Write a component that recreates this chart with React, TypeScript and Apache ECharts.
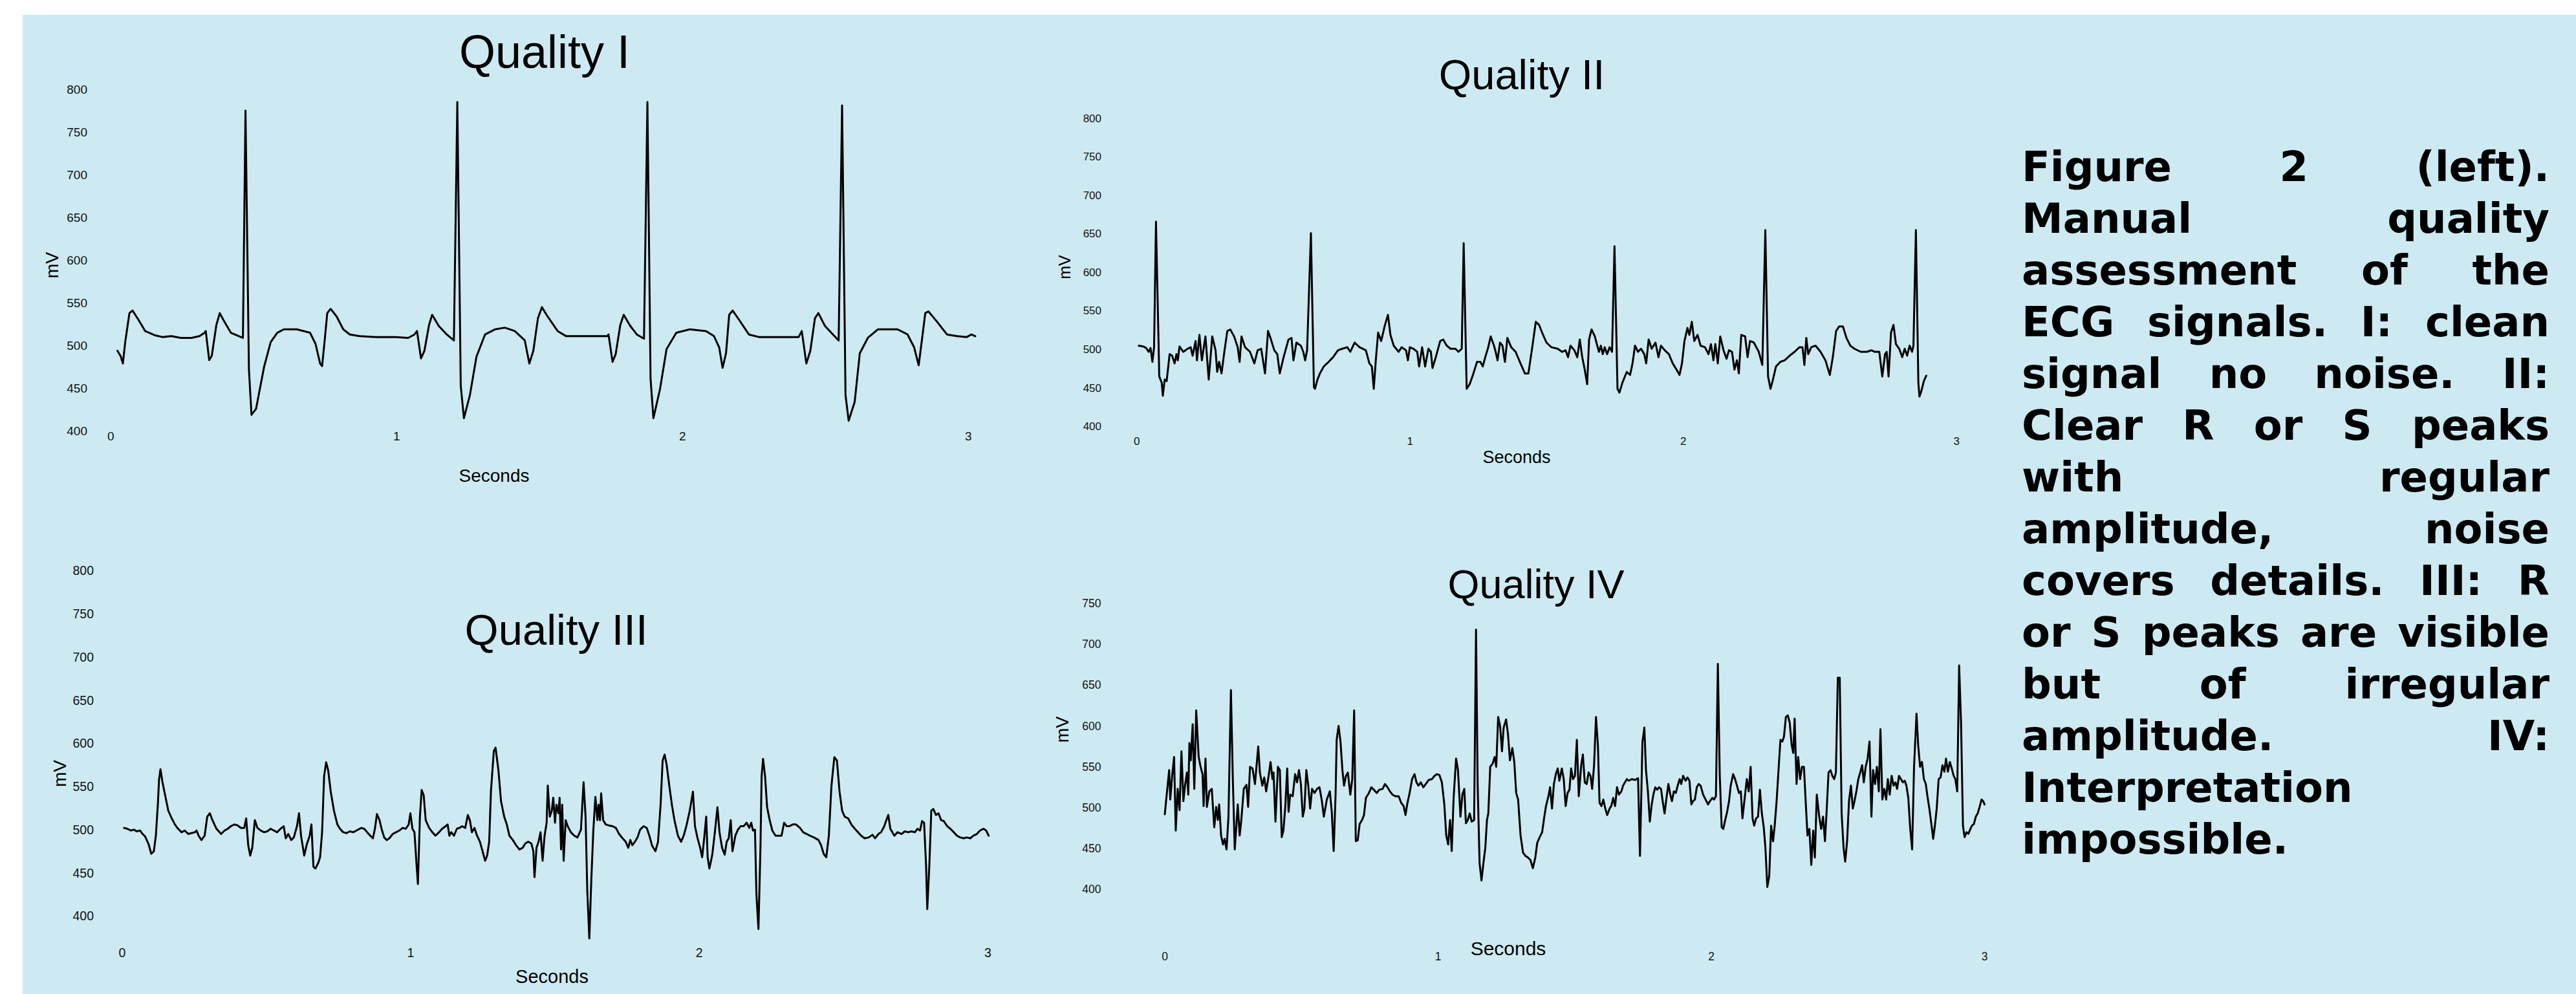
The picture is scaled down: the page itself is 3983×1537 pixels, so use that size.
import React, { useEffect, useRef } from "react";
import * as echarts from "echarts";

// ---------- DATA (seconds, mV) ----------
const q1Signal: number[][] = [
  [0.023,494],[0.035,487],[0.042,479],[0.051,506],[0.065,538],[0.076,541],[0.097,530],[0.120,517],[0.155,512],[0.180,510],[0.212,511],[0.245,509],[0.282,509],[0.310,511],[0.328,515],[0.332,517],[0.344,483],[0.353,488],[0.369,524],[0.381,538],[0.397,528],[0.420,515],[0.448,511],[0.462,509],[0.471,775],[0.483,472],[0.492,419],[0.508,426],[0.536,475],[0.559,504],[0.582,515],[0.605,519],[0.651,519],[0.697,515],[0.716,502],[0.732,479],[0.739,476],[0.748,506],[0.757,538],[0.769,543],[0.790,534],[0.813,519],[0.836,513],[0.870,511],[0.928,510],[0.997,510],[1.040,509],[1.062,513],[1.071,517],[1.085,485],[1.097,494],[1.113,524],[1.124,536],[1.147,523],[1.175,513],[1.200,506],[1.212,785],[1.224,453],[1.235,415],[1.256,442],[1.279,487],[1.309,513],[1.344,519],[1.378,521],[1.413,517],[1.448,506],[1.464,479],[1.478,494],[1.494,532],[1.508,545],[1.528,534],[1.563,517],[1.593,511],[1.667,511],[1.736,511],[1.741,513],[1.755,481],[1.766,490],[1.782,524],[1.794,536],[1.817,523],[1.840,513],[1.865,508],[1.877,785],[1.888,461],[1.898,415],[1.921,449],[1.944,496],[1.978,515],[2.025,519],[2.082,517],[2.110,511],[2.128,498],[2.140,474],[2.152,491],[2.163,536],[2.175,541],[2.198,530],[2.232,513],[2.267,510],[2.336,510],[2.406,510],[2.417,517],[2.433,479],[2.447,494],[2.463,532],[2.475,538],[2.498,523],[2.526,513],[2.546,506],[2.558,781],[2.570,442],[2.581,412],[2.602,434],[2.620,491],[2.648,509],[2.683,519],[2.752,519],[2.787,513],[2.810,498],[2.826,477],[2.837,506],[2.849,538],[2.860,540],[2.890,528],[2.925,513],[2.960,511],[2.994,510],[3.010,513],[3.024,511]
];

const q2Signal: number[][] = [
  [0.007,505],[0.023,504],[0.034,502],[0.043,497],[0.050,502],[0.057,484],[0.063,503],[0.070,666],[0.082,465],[0.091,457],[0.095,440],[0.102,461],[0.109,459],[0.120,494],[0.129,492],[0.138,482],[0.145,494],[0.150,486],[0.156,504],[0.170,497],[0.186,501],[0.197,503],[0.204,492],[0.215,511],[0.220,486],[0.229,519],[0.238,486],[0.251,517],[0.263,461],[0.276,517],[0.288,499],[0.294,471],[0.301,484],[0.310,469],[0.319,494],[0.331,524],[0.342,526],[0.356,517],[0.369,503],[0.376,484],[0.383,517],[0.396,503],[0.414,497],[0.430,482],[0.442,499],[0.455,501],[0.469,469],[0.480,524],[0.489,515],[0.503,499],[0.514,494],[0.523,469],[0.537,490],[0.555,513],[0.566,515],[0.573,486],[0.584,509],[0.600,505],[0.609,497],[0.616,486],[0.623,499],[0.637,651],[0.648,451],[0.652,449],[0.661,461],[0.670,469],[0.684,478],[0.702,484],[0.718,490],[0.736,499],[0.752,501],[0.770,503],[0.781,497],[0.797,509],[0.815,503],[0.838,499],[0.851,482],[0.860,478],[0.867,449],[0.874,484],[0.883,522],[0.894,511],[0.908,532],[0.919,545],[0.928,519],[0.940,505],[0.958,497],[0.969,503],[0.985,499],[0.992,486],[0.999,503],[1.012,501],[1.026,497],[1.033,478],[1.044,503],[1.055,478],[1.067,501],[1.076,497],[1.082,476],[1.094,490],[1.110,511],[1.121,513],[1.134,505],[1.148,501],[1.166,501],[1.177,497],[1.189,501],[1.196,638],[1.207,449],[1.218,455],[1.230,467],[1.245,484],[1.257,484],[1.266,478],[1.275,490],[1.286,503],[1.295,517],[1.307,505],[1.313,497],[1.320,486],[1.329,509],[1.338,505],[1.347,484],[1.356,515],[1.370,503],[1.386,497],[1.404,482],[1.420,469],[1.433,469],[1.447,503],[1.460,536],[1.472,532],[1.483,522],[1.499,509],[1.517,503],[1.540,501],[1.556,497],[1.569,499],[1.578,490],[1.587,505],[1.601,499],[1.612,490],[1.621,513],[1.630,490],[1.639,474],[1.648,455],[1.655,513],[1.664,526],[1.676,517],[1.691,497],[1.698,505],[1.705,494],[1.712,503],[1.721,494],[1.730,503],[1.739,497],[1.748,634],[1.759,449],[1.766,444],[1.777,457],[1.793,471],[1.805,467],[1.814,482],[1.823,505],[1.834,497],[1.845,501],[1.857,494],[1.864,482],[1.873,513],[1.884,501],[1.898,509],[1.909,490],[1.918,505],[1.932,499],[1.947,494],[1.961,482],[1.975,474],[1.986,467],[1.995,482],[2.004,511],[2.015,528],[2.022,519],[2.031,536],[2.040,511],[2.052,519],[2.063,505],[2.079,503],[2.092,494],[2.101,507],[2.110,486],[2.117,507],[2.126,482],[2.135,517],[2.147,499],[2.158,488],[2.167,499],[2.178,497],[2.187,474],[2.196,486],[2.203,469],[2.212,519],[2.226,517],[2.235,490],[2.244,511],[2.258,509],[2.276,497],[2.289,480],[2.300,655],[2.310,465],[2.319,449],[2.328,461],[2.339,478],[2.355,484],[2.371,486],[2.389,492],[2.407,497],[2.425,503],[2.436,503],[2.443,480],[2.450,515],[2.457,494],[2.468,503],[2.484,505],[2.502,497],[2.520,486],[2.536,467],[2.547,490],[2.559,524],[2.570,530],[2.584,530],[2.597,515],[2.611,505],[2.626,501],[2.649,497],[2.672,497],[2.688,499],[2.701,497],[2.717,497],[2.728,465],[2.738,494],[2.744,497],[2.751,465],[2.760,522],[2.769,532],[2.778,507],[2.790,501],[2.801,490],[2.810,501],[2.819,492],[2.828,505],[2.837,497],[2.842,505],[2.851,655],[2.860,457],[2.864,439],[2.871,446],[2.880,459],[2.889,466]
];

const q3Signal: number[][] = [
  [0.007,502],[0.018,501],[0.030,499],[0.041,500],[0.050,498],[0.062,499],[0.071,495],[0.080,492],[0.092,483],[0.101,472],[0.110,475],[0.117,493],[0.124,530],[0.128,558],[0.133,570],[0.140,555],[0.149,540],[0.160,522],[0.172,513],[0.183,506],[0.194,501],[0.206,497],[0.217,499],[0.229,495],[0.240,496],[0.252,497],[0.258,499],[0.265,493],[0.275,488],[0.286,493],[0.295,515],[0.304,519],[0.313,511],[0.327,501],[0.343,495],[0.355,499],[0.366,501],[0.377,504],[0.389,506],[0.400,505],[0.412,502],[0.423,502],[0.430,513],[0.437,482],[0.444,470],[0.451,479],[0.460,511],[0.469,502],[0.480,499],[0.492,497],[0.503,498],[0.515,501],[0.526,499],[0.537,497],[0.549,501],[0.560,504],[0.567,490],[0.576,495],[0.586,488],[0.595,491],[0.606,504],[0.613,519],[0.620,493],[0.631,470],[0.640,483],[0.650,493],[0.656,506],[0.663,457],[0.670,455],[0.679,461],[0.686,468],[0.693,497],[0.700,562],[0.707,578],[0.714,569],[0.723,544],[0.734,522],[0.746,506],[0.755,501],[0.766,497],[0.778,496],[0.789,498],[0.801,497],[0.812,499],[0.828,502],[0.839,501],[0.849,497],[0.860,493],[0.869,490],[0.876,501],[0.883,518],[0.892,511],[0.899,501],[0.908,491],[0.917,488],[0.926,490],[0.938,495],[0.949,497],[0.961,499],[0.972,502],[0.983,501],[0.993,506],[0.999,519],[1.006,501],[1.013,497],[1.020,461],[1.025,437],[1.032,515],[1.038,546],[1.045,540],[1.052,511],[1.064,502],[1.075,497],[1.086,493],[1.098,497],[1.109,501],[1.121,504],[1.128,506],[1.134,493],[1.141,497],[1.150,493],[1.160,501],[1.169,502],[1.178,504],[1.189,502],[1.198,517],[1.205,511],[1.212,497],[1.221,502],[1.230,493],[1.240,486],[1.249,475],[1.258,464],[1.265,470],[1.272,486],[1.278,544],[1.288,591],[1.294,595],[1.304,569],[1.313,533],[1.324,515],[1.333,506],[1.342,493],[1.354,488],[1.365,482],[1.377,477],[1.388,479],[1.397,484],[1.407,486],[1.418,484],[1.425,475],[1.429,445],[1.436,479],[1.443,486],[1.450,497],[1.457,464],[1.464,493],[1.471,508],[1.475,551],[1.482,515],[1.489,522],[1.494,537],[1.500,508],[1.505,529],[1.512,519],[1.516,537],[1.521,477],[1.525,529],[1.530,464],[1.537,511],[1.544,504],[1.555,497],[1.567,493],[1.578,491],[1.590,500],[1.599,555],[1.606,515],[1.612,428],[1.619,374],[1.626,443],[1.633,500],[1.640,538],[1.647,511],[1.651,529],[1.656,511],[1.660,542],[1.667,511],[1.676,506],[1.685,505],[1.699,504],[1.711,502],[1.722,495],[1.734,490],[1.745,486],[1.754,479],[1.761,488],[1.768,482],[1.777,486],[1.786,491],[1.795,500],[1.807,504],[1.818,502],[1.827,493],[1.836,482],[1.848,475],[1.857,486],[1.866,529],[1.873,580],[1.880,587],[1.887,575],[1.896,551],[1.905,529],[1.914,511],[1.926,493],[1.937,486],[1.946,493],[1.955,504],[1.967,522],[1.978,544],[1.985,504],[1.994,490],[2.003,479],[2.010,468],[2.017,490],[2.024,515],[2.029,468],[2.035,455],[2.045,471],[2.054,497],[2.063,526],[2.070,497],[2.079,479],[2.088,471],[2.095,486],[2.102,490],[2.109,511],[2.115,475],[2.125,493],[2.134,500],[2.143,504],[2.154,504],[2.164,508],[2.173,502],[2.180,508],[2.186,499],[2.193,500],[2.198,425],[2.205,385],[2.212,479],[2.216,562],[2.221,582],[2.228,562],[2.235,526],[2.244,511],[2.253,499],[2.264,493],[2.276,493],[2.285,493],[2.294,508],[2.303,504],[2.312,504],[2.324,506],[2.335,506],[2.349,502],[2.360,497],[2.372,495],[2.383,493],[2.397,491],[2.413,488],[2.422,482],[2.431,472],[2.440,468],[2.449,493],[2.458,551],[2.468,584],[2.477,580],[2.486,544],[2.495,522],[2.504,515],[2.516,513],[2.527,506],[2.539,501],[2.550,497],[2.561,493],[2.573,490],[2.587,491],[2.600,494],[2.609,490],[2.621,495],[2.630,497],[2.641,504],[2.648,511],[2.655,517],[2.662,501],[2.676,493],[2.687,497],[2.701,495],[2.712,498],[2.724,497],[2.735,498],[2.747,497],[2.756,501],[2.765,499],[2.772,510],[2.779,508],[2.786,457],[2.790,408],[2.797,457],[2.804,522],[2.811,524],[2.820,517],[2.829,519],[2.838,511],[2.847,510],[2.859,504],[2.870,501],[2.882,497],[2.893,493],[2.904,491],[2.916,490],[2.927,491],[2.939,490],[2.950,493],[2.962,495],[2.973,499],[2.985,501],[2.994,499],[3.003,493]
];

const q4Signal: number[][] = [
  [0.000,492],[0.007,516],[0.016,546],[0.020,510],[0.027,539],[0.034,562],[0.040,472],[0.047,523],[0.054,497],[0.061,569],[0.068,508],[0.074,527],[0.081,543],[0.086,516],[0.090,579],[0.095,558],[0.102,602],[0.108,523],[0.115,619],[0.124,562],[0.131,550],[0.138,541],[0.142,502],[0.149,560],[0.154,501],[0.163,520],[0.172,523],[0.181,476],[0.188,501],[0.194,485],[0.199,504],[0.206,466],[0.213,455],[0.219,462],[0.226,449],[0.233,489],[0.242,644],[0.249,535],[0.256,449],[0.262,478],[0.267,504],[0.274,466],[0.280,485],[0.289,523],[0.299,528],[0.305,501],[0.312,550],[0.321,548],[0.330,529],[0.342,575],[0.348,543],[0.357,527],[0.364,537],[0.371,520],[0.380,539],[0.387,556],[0.394,535],[0.398,543],[0.405,483],[0.414,550],[0.421,546],[0.428,464],[0.434,472],[0.441,501],[0.448,548],[0.453,495],[0.459,516],[0.468,514],[0.477,541],[0.484,531],[0.491,546],[0.498,529],[0.505,489],[0.511,499],[0.518,546],[0.525,527],[0.532,499],[0.539,523],[0.548,518],[0.557,523],[0.566,525],[0.575,508],[0.582,489],[0.593,510],[0.604,520],[0.611,495],[0.618,447],[0.625,516],[0.629,583],[0.636,600],[0.643,581],[0.650,546],[0.656,527],[0.663,539],[0.670,543],[0.679,516],[0.686,535],[0.693,619],[0.699,459],[0.706,460],[0.713,480],[0.722,485],[0.729,491],[0.736,512],[0.747,518],[0.756,525],[0.765,522],[0.776,518],[0.785,522],[0.797,523],[0.806,529],[0.815,525],[0.824,520],[0.833,516],[0.844,514],[0.856,514],[0.865,506],[0.874,502],[0.881,491],[0.887,504],[0.896,518],[0.905,535],[0.914,541],[0.921,531],[0.928,527],[0.937,531],[0.946,525],[0.955,529],[0.966,534],[0.978,535],[0.987,539],[0.996,541],[1.005,540],[1.014,531],[1.023,504],[1.030,466],[1.037,455],[1.044,485],[1.050,447],[1.057,512],[1.066,560],[1.073,546],[1.082,489],[1.089,516],[1.096,523],[1.102,481],[1.109,485],[1.116,493],[1.123,483],[1.132,485],[1.139,718],[1.145,527],[1.152,432],[1.159,411],[1.166,432],[1.173,451],[1.179,485],[1.184,493],[1.191,550],[1.200,554],[1.207,562],[1.213,550],[1.220,611],[1.227,600],[1.234,569],[1.240,598],[1.249,608],[1.256,590],[1.263,558],[1.272,573],[1.279,556],[1.286,518],[1.293,510],[1.302,466],[1.311,445],[1.320,441],[1.329,439],[1.338,436],[1.347,426],[1.356,439],[1.363,457],[1.372,464],[1.381,470],[1.388,487],[1.395,502],[1.404,514],[1.410,525],[1.417,499],[1.424,529],[1.431,541],[1.438,548],[1.444,533],[1.453,548],[1.460,535],[1.467,502],[1.474,518],[1.481,522],[1.487,548],[1.494,535],[1.501,539],[1.508,583],[1.515,514],[1.524,552],[1.530,565],[1.537,531],[1.544,529],[1.551,543],[1.558,539],[1.564,523],[1.571,552],[1.578,611],[1.585,577],[1.591,506],[1.598,502],[1.605,510],[1.612,499],[1.619,491],[1.628,499],[1.634,502],[1.641,512],[1.648,502],[1.655,525],[1.662,516],[1.671,520],[1.677,527],[1.684,531],[1.691,535],[1.698,533],[1.709,535],[1.721,534],[1.732,536],[1.739,441],[1.748,580],[1.755,598],[1.761,546],[1.768,520],[1.775,483],[1.782,504],[1.788,516],[1.795,525],[1.802,522],[1.809,525],[1.816,523],[1.822,508],[1.829,493],[1.836,512],[1.843,529],[1.850,516],[1.856,508],[1.863,520],[1.870,518],[1.877,527],[1.884,535],[1.890,529],[1.897,539],[1.906,533],[1.913,537],[1.920,533],[1.927,504],[1.933,508],[1.940,510],[1.947,525],[1.954,529],[1.961,527],[1.970,516],[1.979,510],[1.988,504],[1.995,508],[2.004,512],[2.010,510],[2.017,514],[2.024,676],[2.031,539],[2.038,476],[2.044,474],[2.051,485],[2.058,495],[2.065,508],[2.071,527],[2.080,541],[2.087,535],[2.094,527],[2.101,518],[2.108,520],[2.114,487],[2.123,514],[2.130,535],[2.137,520],[2.144,550],[2.151,487],[2.157,478],[2.164,487],[2.171,489],[2.178,522],[2.185,493],[2.192,476],[2.198,451],[2.205,403],[2.212,416],[2.219,478],[2.226,459],[2.232,478],[2.239,508],[2.246,546],[2.253,583],[2.260,581],[2.266,587],[2.273,611],[2.280,613],[2.287,604],[2.294,577],[2.300,567],[2.305,609],[2.312,529],[2.318,562],[2.325,535],[2.332,550],[2.339,550],[2.346,504],[2.352,466],[2.359,474],[2.366,430],[2.373,472],[2.379,439],[2.386,516],[2.395,489],[2.402,474],[2.409,489],[2.416,459],[2.422,495],[2.429,543],[2.436,546],[2.443,539],[2.450,535],[2.456,543],[2.463,659],[2.470,659],[2.477,493],[2.484,451],[2.490,434],[2.497,459],[2.504,508],[2.511,527],[2.518,499],[2.524,508],[2.531,520],[2.538,535],[2.545,543],[2.552,552],[2.558,531],[2.565,550],[2.572,560],[2.579,581],[2.586,489],[2.592,546],[2.599,529],[2.606,550],[2.613,520],[2.619,596],[2.626,510],[2.633,523],[2.640,510],[2.646,535],[2.653,516],[2.660,539],[2.667,527],[2.674,531],[2.680,523],[2.687,539],[2.694,535],[2.701,531],[2.708,533],[2.714,527],[2.721,512],[2.728,474],[2.735,449],[2.742,550],[2.751,615],[2.757,577],[2.764,550],[2.771,556],[2.778,535],[2.785,529],[2.791,514],[2.798,499],[2.805,481],[2.812,462],[2.819,480],[2.825,499],[2.832,535],[2.839,537],[2.846,552],[2.853,544],[2.859,560],[2.866,544],[2.873,556],[2.880,548],[2.887,539],[2.893,535],[2.900,520],[2.907,674],[2.914,604],[2.921,478],[2.927,464],[2.934,470],[2.941,468],[2.948,474],[2.954,478],[2.961,480],[2.968,489],[2.975,493],[2.982,501],[2.989,510],[2.995,508],[3.000,504]
];

const panelTitles = ["Quality I", "Quality II", "Quality III", "Quality IV"];
const xAxisTitle = "Seconds";
const yAxisTitle = "mV";
const xTickValues = [0, 1, 2, 3];
const yTickStep = 50;

const captionLines = [
  "Figure 2 (left).",
  "Manual quality",
  "assessment of the",
  "ECG signals. I: clean",
  "signal no noise. II:",
  "Clear R or S peaks",
  "with regular",
  "amplitude, noise",
  "covers details. III: R",
  "or S peaks are visible",
  "but of irregular",
  "amplitude. IV:",
  "Interpretation",
  "impossible.",
];

// ---------- LAYOUT ----------
const FONT = "'Liberation Sans', Arial, sans-serif";
const CAPTION_FONT = "'DejaVu Sans', Verdana, sans-serif";
const BG = "#cdeaf2";

const panels = [
  { left: 171.4, top: 138, width: 1348.1, height: 528.5, xMax: 3.05, yMin: 400, yMax: 800, tick: 19, yMargin: 36.4, xMargin: 7.5,
    title: [842, 80, 72], xName: [764, 735, 28], yName: [80.6, 410, 27] },
  { left: 1757.8, top: 183, width: 1267.5, height: 476.6, xMax: 3, yMin: 400, yMax: 800, tick: 17, yMargin: 54.8, xMargin: 22.4,
    title: [2353, 115, 65], xName: [2345, 707, 27], yName: [1646, 413, 25] },
  { left: 188.8, top: 882.4, width: 1343.1, height: 600.7, xMax: 3.01, yMin: 350, yMax: 800, tick: 19.5, yMargin: 43.8, xMargin: -10.1,
    title: [860, 973, 67], xName: [853.5, 1510, 29], yName: [92, 1196, 28] },
  { left: 1801, top: 933, width: 1267.5, height: 442.3, xMax: 3, yMin: 400, yMax: 750, tick: 17.5, yMargin: 98.6, xMargin: 103.7,
    title: [2375, 903, 63], xName: [2332, 1466, 30], yName: [1643, 1128, 27] },
];
const signals = [q1Signal, q2Signal, q3Signal, q4Signal];

const CAP_LEFT = 3126;
const CAP_RIGHT = 3942;
const CAP_FIRST_MID = 258;
const CAP_STEP = 80;
const CAP_SIZE = 64;

function buildCaption(): any[] {
  const canvas = document.createElement("canvas");
  const ctx = canvas.getContext("2d") as CanvasRenderingContext2D;
  ctx.font = `bold ${CAP_SIZE}px 'DejaVu Sans'`;
  const W = CAP_RIGHT - CAP_LEFT;
  const out: any[] = [];
  captionLines.forEach((line, i) => {
    const words = line.split(" ");
    const y = CAP_FIRST_MID + i * CAP_STEP;
    const last = i === captionLines.length - 1;
    const widths = words.map((w) => ctx.measureText(w).width);
    let gap = ctx.measureText(" ").width;
    if (!last && words.length > 1) {
      const total = widths.reduce((a, b) => a + b, 0);
      gap = (W - total) / (words.length - 1);
    }
    let x = CAP_LEFT;
    words.forEach((w, j) => {
      out.push({
        type: "text",
        x,
        y,
        z: 2,
        silent: true,
        style: {
          text: w,
          fill: "#000",
          font: `bold ${CAP_SIZE}px ${CAPTION_FONT}`,
          textAlign: "left",
          textVerticalAlign: "middle",
        },
      });
      x += widths[j] + gap;
    });
  });
  return out;
}

export default function App() {
  const ref = useRef<HTMLDivElement>(null);

  useEffect(() => {
    if (!ref.current) return;
    const chart = echarts.init(ref.current, undefined, { renderer: "svg" });

    const grid = panels.map((p) => ({
      left: p.left,
      top: p.top,
      width: p.width,
      height: p.height,
      containLabel: false,
      outerBoundsMode: "none",
    }));

    const xAxis = panels.map((p, i) => ({
      type: "value",
      gridIndex: i,
      min: 0,
      max: p.xMax,
      interval: 1,
      axisLine: { show: false },
      axisTick: { show: false },
      splitLine: { show: false },
      axisLabel: {
        show: true,
        margin: p.xMargin,
        verticalAlign: "middle",
        fontSize: p.tick,
        fontFamily: FONT,
        color: "#111",
        formatter: (v: number) => (xTickValues.indexOf(v) >= 0 ? String(v) : ""),
      },
    }));

    const yAxis = panels.map((p, i) => ({
      type: "value",
      gridIndex: i,
      min: p.yMin,
      max: p.yMax,
      interval: yTickStep,
      axisLine: { show: false },
      axisTick: { show: false },
      splitLine: { show: false },
      axisLabel: {
        show: true,
        margin: p.yMargin,
        fontSize: p.tick,
        fontFamily: FONT,
        color: "#111",
        formatter: (v: number) => (v >= 400 ? String(v) : ""),
      },
    }));

    const series = signals.map((d, i) => ({
      type: "line",
      xAxisIndex: i,
      yAxisIndex: i,
      data: d,
      showSymbol: false,
      symbol: "none",
      silent: true,
      clip: false,
      lineStyle: { color: "#000", width: 3, join: "round", cap: "round" },
    }));

    const graphic: any[] = [
      {
        type: "rect",
        z: 0,
        silent: true,
        shape: { x: 35, y: 23, width: 3983 - 35, height: 1537 - 23 },
        style: { fill: BG },
      },
    ];
    panels.forEach((p, i) => {
      graphic.push({
        type: "text",
        x: p.title[0],
        y: p.title[1],
        z: 2,
        silent: true,
        style: {
          text: panelTitles[i],
          fill: "#000",
          font: `${p.title[2]}px ${FONT}`,
          textAlign: "center",
          textVerticalAlign: "middle",
        },
      });
      graphic.push({
        type: "text",
        x: p.xName[0],
        y: p.xName[1],
        z: 2,
        silent: true,
        style: {
          text: xAxisTitle,
          fill: "#000",
          font: `${p.xName[2]}px ${FONT}`,
          textAlign: "center",
          textVerticalAlign: "middle",
        },
      });
      graphic.push({
        type: "text",
        x: p.yName[0],
        y: p.yName[1],
        z: 2,
        rotation: Math.PI / 2,
        silent: true,
        style: {
          text: yAxisTitle,
          fill: "#000",
          font: `${p.yName[2]}px ${FONT}`,
          textAlign: "center",
          textVerticalAlign: "middle",
        },
      });
    });
    graphic.push(...buildCaption());

    chart.setOption({
      animation: false,
      backgroundColor: "#ffffff",
      grid,
      xAxis,
      yAxis,
      series,
      graphic,
    });

    return () => {
      chart.dispose();
    };
  }, []);

  return (
    <div
      ref={ref}
      style={{ position: "absolute", left: 0, top: 0, width: 3983, height: 1537 }}
    />
  );
}
